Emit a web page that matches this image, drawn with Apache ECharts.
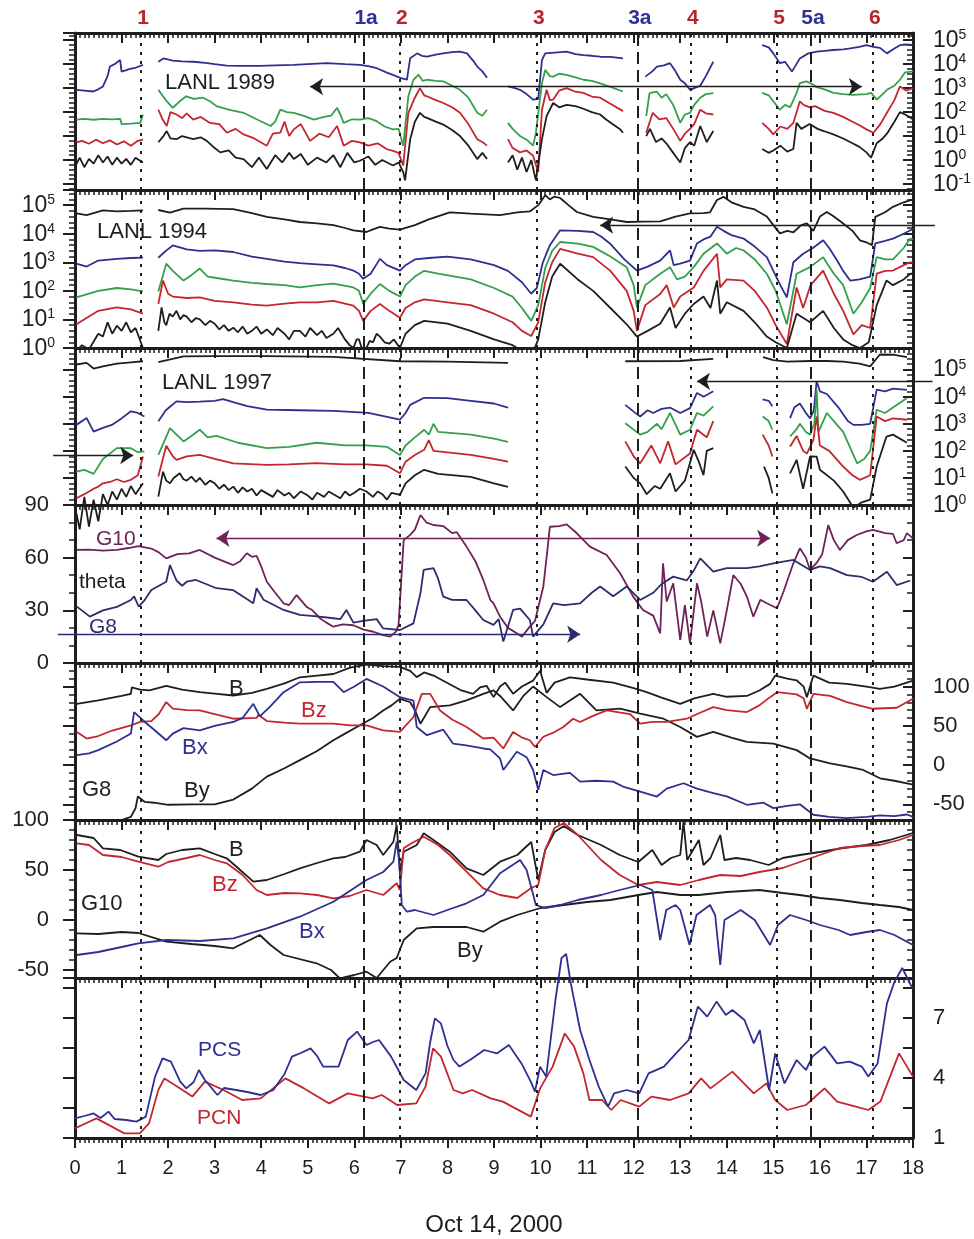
<!DOCTYPE html>
<html>
<head>
<meta charset="utf-8">
<title>Oct 14, 2000</title>
<script src="https://cdn.jsdelivr.net/npm/echarts/dist/echarts.min.js"></script>
<style>
  html, body { margin: 0; padding: 0; background: #ffffff; }
  #chart { width: 974px; height: 1239px; }
</style>
</head>
<body>
<div id="chart"></div>
<script>
// ---------------------------------------------------------------------------
// Data (time in UT hours on Oct 14, 2000). LANL fluxes are stored as log10.
// null marks a data gap.
// ---------------------------------------------------------------------------

// Event times and names (names ending in "a" are secondary events)
const eventTimes = [1.42, 6.21, 6.98, 9.92, 12.09, 13.23, 15.08, 15.81, 17.14];
const eventNames = ['1', '1a', '2', '3', '3a', '4', '5', '5a', '6'];

// LANL 1989 (log10 flux), channels 1..4
const lanl89Ch1 = [[0.03,2.93],[0.2,2.9],[0.39,2.86],[0.5,2.95],[0.6,3.07],[0.7,3.5],[0.75,3.9],[0.85,4.0],[0.97,4.17],[1.0,3.69],[1.1,3.75],[1.18,3.8],[1.3,3.85],[1.46,3.97],null,
  [1.79,4.1],[1.9,4.24],[2.1,4.15],[2.3,4.12],[2.54,4.1],[2.8,4.05],[3.0,4.0],[3.26,3.94],[3.6,3.93],[3.97,3.93],[4.3,3.95],[4.69,3.97],[5.0,4.0],[5.4,4.04],[5.8,4.0],[6.12,3.97],[6.3,3.92],[6.48,3.83],[6.7,3.65],[6.83,3.55],[7.0,3.42],[7.13,3.35],[7.2,4.25],[7.35,4.45],[7.45,4.35],[7.56,4.31],[7.75,4.4],[7.91,4.45],[8.1,4.5],[8.27,4.52],[8.42,4.45],[8.55,4.15],[8.64,3.9],[8.75,3.7],[8.85,3.43],null,
  [9.3,3.07],[9.45,3.0],[9.56,2.93],[9.7,2.75],[9.84,2.52],[9.95,2.55],[10.03,4.17],[10.1,4.45],[10.3,4.48],[10.56,4.52],[10.75,4.42],[10.92,4.38],[11.1,4.35],[11.28,4.31],[11.5,4.3],[11.77,4.24],null,
  [12.25,3.48],[12.4,3.7],[12.5,3.9],[12.65,3.95],[12.78,4.04],[12.9,3.7],[13.0,3.35],[13.1,3.2],[13.21,2.93],[13.3,3.0],[13.43,3.1],[13.55,3.5],[13.71,4.1],null,
  [14.76,4.79],[14.9,4.7],[15.0,4.45],[15.14,4.04],[15.25,4.1],[15.4,3.69],[15.57,4.24],[15.75,4.45],[15.93,4.52],[16.1,4.55],[16.29,4.59],[16.5,4.62],[16.65,4.66],[16.85,4.72],[17.0,4.79],[17.15,4.72],[17.29,4.68],[17.44,4.45],[17.6,4.65],[17.72,4.79],[17.83,4.82],[18.0,4.8]];
const lanl89Ch2 = [[0.03,1.69],[0.2,1.72],[0.4,1.68],[0.6,1.72],[0.8,1.7],[0.97,1.72],[1.0,1.5],[1.2,1.52],[1.4,1.55],[1.46,1.9],null,
  [1.79,2.93],[1.95,2.5],[2.1,2.18],[2.25,2.45],[2.39,2.66],[2.55,2.55],[2.75,2.6],[2.9,2.45],[3.04,2.25],[3.3,2.1],[3.62,1.97],[3.9,1.7],[4.2,1.42],[4.3,1.6],[4.41,2.1],[4.55,2.0],[4.7,1.97],[4.9,1.85],[5.13,1.69],[5.35,1.8],[5.5,1.85],[5.63,2.18],[5.7,1.9],[5.77,1.55],[5.95,1.7],[6.12,1.69],[6.3,1.75],[6.48,1.62],[6.65,1.4],[6.83,1.28],[6.95,1.3],[7.05,0.6],[7.16,2.66],[7.27,3.35],[7.38,3.56],[7.47,3.3],[7.56,3.35],[7.75,3.3],[7.91,3.28],[8.1,3.1],[8.27,2.93],[8.45,2.6],[8.64,1.97],[8.75,1.85],[8.85,2.1],null,
  [9.3,1.55],[9.4,1.3],[9.56,1.0],[9.7,0.85],[9.84,0.6],[9.9,1.14],[10.03,3.21],[10.1,3.76],[10.2,3.5],[10.27,3.48],[10.4,3.6],[10.56,3.55],[10.75,3.45],[10.92,3.35],[11.1,3.3],[11.28,3.2],[11.5,3.05],[11.77,2.86],null,
  [12.27,1.83],[12.34,2.79],[12.5,2.85],[12.6,2.6],[12.7,2.75],[12.85,2.3],[13.0,1.55],[13.1,1.9],[13.21,1.97],[13.3,2.3],[13.43,2.6],[13.55,2.75],[13.71,2.79],null,
  [14.76,2.8],[14.9,2.7],[15.0,2.45],[15.14,2.1],[15.25,2.3],[15.36,2.2],[15.5,2.8],[15.57,3.21],[15.71,3.28],[15.85,3.15],[15.93,3.04],[16.1,2.95],[16.29,2.8],[16.5,2.75],[16.7,2.72],[17.0,2.75],[17.1,2.8],[17.22,2.52],[17.35,2.75],[17.44,2.93],[17.6,3.1],[17.72,3.35],[17.83,3.66],[18.0,3.7]];
const lanl89Ch3 = [[0.03,0.74],[0.15,0.8],[0.3,0.68],[0.45,0.85],[0.6,0.7],[0.75,0.82],[0.9,0.65],[1.05,0.78],[1.2,0.6],[1.35,0.8],[1.46,0.85],null,
  [1.79,2.1],[1.88,1.7],[1.97,1.42],[2.05,2.0],[2.18,1.9],[2.3,1.75],[2.4,1.95],[2.54,1.69],[2.7,1.8],[2.9,1.55],[3.1,1.5],[3.26,1.14],[3.45,1.3],[3.62,1.07],[3.85,0.9],[4.12,0.6],[4.25,1.1],[4.41,1.14],[4.5,1.6],[4.6,1.0],[4.7,1.28],[4.85,1.5],[5.05,0.8],[5.25,1.1],[5.45,0.95],[5.63,1.42],[5.77,0.6],[5.95,0.8],[6.12,0.74],[6.3,0.6],[6.5,0.7],[6.7,0.45],[6.83,0.38],[6.95,0.3],[7.05,-0.23],[7.16,1.97],[7.3,2.6],[7.41,3.0],[7.5,2.7],[7.56,2.66],[7.75,2.5],[7.91,2.38],[8.1,2.2],[8.27,1.97],[8.45,1.5],[8.64,0.87],[8.75,0.75],[8.85,0.6],null,
  [9.3,0.87],[9.4,0.5],[9.56,0.32],[9.7,0.4],[9.84,0.18],[9.95,-0.5],[10.03,2.1],[10.13,2.93],[10.2,2.5],[10.27,2.52],[10.4,2.9],[10.56,3.0],[10.75,2.85],[10.92,2.8],[11.1,2.65],[11.28,2.6],[11.5,2.35],[11.77,2.04],null,
  [12.27,1.14],[12.41,1.97],[12.55,1.7],[12.7,1.75],[12.85,1.3],[13.0,0.8],[13.1,1.1],[13.21,1.3],[13.3,1.5],[13.43,2.1],[13.55,1.95],[13.71,1.9],null,
  [14.76,1.55],[14.9,1.3],[15.0,1.07],[15.15,1.4],[15.3,1.3],[15.43,1.55],[15.57,2.45],[15.65,2.3],[15.78,2.2],[15.9,2.25],[16.1,2.05],[16.29,1.97],[16.5,1.8],[16.7,1.6],[16.85,1.45],[17.0,1.28],[17.15,1.14],[17.3,1.5],[17.44,1.97],[17.6,2.5],[17.72,3.07],[17.85,2.9],[18.0,3.0]];
const lanl89Ch4 = [[0.03,-0.17],[0.1,0.1],[0.2,-0.3],[0.3,0.05],[0.4,-0.15],[0.5,0.2],[0.6,-0.1],[0.7,0.15],[0.8,-0.2],[0.9,0.1],[1.0,-0.15],[1.1,0.05],[1.2,-0.2],[1.3,0.1],[1.46,-0.1],null,
  [1.79,0.74],[1.9,1.0],[1.97,1.21],[2.05,0.9],[2.18,0.87],[2.3,1.0],[2.54,0.87],[2.7,0.95],[2.83,0.8],[3.0,0.5],[3.12,0.32],[3.3,0.4],[3.45,0.1],[3.62,0.04],[3.8,-0.3],[3.95,0.1],[4.12,-0.37],[4.3,0.2],[4.45,-0.1],[4.6,0.3],[4.7,0.04],[4.85,0.25],[5.0,-0.2],[5.2,0.1],[5.4,-0.1],[5.55,0.2],[5.7,-0.3],[5.85,0.3],[6.0,-0.1],[6.12,-0.03],[6.3,0.15],[6.45,-0.2],[6.6,0.0],[6.83,-0.23],[6.95,-0.1],[7.05,-0.5],[7.09,-0.85],[7.2,0.87],[7.3,1.6],[7.41,1.97],[7.5,1.8],[7.56,1.76],[7.75,1.6],[7.91,1.48],[8.1,1.25],[8.27,1.0],[8.45,0.6],[8.64,0.04],[8.75,0.3],[8.85,0.04],null,
  [9.3,-0.1],[9.4,0.2],[9.5,-0.4],[9.6,0.1],[9.7,-0.5],[9.8,0.0],[9.9,-0.85],[10.03,0.87],[10.13,1.83],[10.27,2.38],[10.4,2.2],[10.56,2.3],[10.75,2.25],[10.92,2.14],[11.1,2.0],[11.28,1.9],[11.4,1.7],[11.56,1.48],[11.7,1.3],[11.77,1.14],null,
  [12.27,1.0],[12.35,1.3],[12.48,0.75],[12.6,0.9],[12.7,0.7],[12.85,0.3],[13.0,-0.1],[13.1,0.5],[13.21,0.75],[13.3,0.6],[13.43,1.42],[13.57,0.75],[13.71,1.21],null,
  [14.76,0.46],[14.9,0.3],[15.0,0.4],[15.15,0.6],[15.3,0.35],[15.43,0.46],[15.5,1.55],[15.6,1.3],[15.78,1.5],[15.95,1.3],[16.1,1.2],[16.29,1.07],[16.5,0.9],[16.7,0.7],[16.85,0.55],[17.0,0.32],[17.1,0.1],[17.22,0.7],[17.35,0.9],[17.44,1.1],[17.6,1.6],[17.72,2.0],[17.83,1.9],[18.0,1.7]];

// LANL 1994 (log10 flux), channels 0..4
const lanl94Ch0 = [[0.03,4.71],[0.25,4.65],[0.6,4.82],[0.9,4.78],[1.2,4.8],[1.46,4.82],null,
  [1.79,4.83],[2.04,4.74],[2.33,4.88],[2.8,4.88],[3.4,4.86],[3.8,4.72],[4.12,4.59],[4.5,4.5],[4.83,4.41],[5.2,4.36],[5.55,4.3],[5.8,4.2],[5.98,4.12],[6.26,4.06],[6.4,4.15],[6.55,4.24],[6.75,4.18],[6.98,4.14],[7.3,4.3],[7.6,4.5],[8.05,4.75],[8.5,4.7],[9.13,4.65],[9.5,4.75],[9.77,4.78],[9.95,5.0],[10.1,5.35],[10.2,5.2],[10.3,5.3],[10.42,5.25],[10.6,5.0],[10.78,4.76],[11.13,4.59],[11.5,4.5],[11.85,4.41],[12.2,4.42],[12.57,4.43],[12.9,4.6],[13.21,4.71],[13.5,4.72],[13.64,4.75],[13.79,5.18],[13.93,5.29],[14.1,5.1],[14.36,4.94],[14.6,4.85],[14.86,4.6],[15.0,4.3],[15.14,4.01],[15.3,4.1],[15.43,4.05],[15.6,4.3],[15.72,4.36],[15.86,4.1],[16.0,4.6],[16.15,4.76],[16.3,4.6],[16.5,4.36],[16.7,4.1],[16.86,3.77],[17.0,3.7],[17.12,3.6],[17.19,4.59],[17.4,4.75],[17.57,4.94],[17.8,5.1],[18.0,5.2]];
const lanl94Ch1 = [[0.03,2.95],[0.25,2.85],[0.5,3.06],[0.9,3.12],[1.2,3.15],[1.46,3.16],null,
  [1.79,3.16],[1.95,3.4],[2.1,3.59],[2.4,3.45],[2.68,3.4],[3.0,3.42],[3.4,3.36],[3.8,3.2],[4.12,3.12],[4.5,3.02],[4.83,2.97],[5.2,2.93],[5.55,2.89],[5.8,2.8],[5.98,2.71],[6.1,2.6],[6.19,2.42],[6.35,2.6],[6.55,3.12],[6.7,2.9],[6.98,2.71],[7.1,2.9],[7.3,3.1],[7.6,3.15],[8.0,3.2],[8.5,3.1],[9.0,2.9],[9.3,2.7],[9.6,2.3],[9.8,1.9],[9.92,2.1],[10.05,3.0],[10.2,3.6],[10.42,4.12],[10.8,4.1],[11.13,4.06],[11.3,3.9],[11.49,3.66],[11.8,3.1],[12.07,2.71],[12.3,2.85],[12.57,3.06],[12.78,3.42],[12.86,2.9],[13.0,2.95],[13.21,3.06],[13.36,3.66],[13.5,3.8],[13.65,3.9],[13.79,4.24],[13.93,4.1],[14.1,3.95],[14.36,3.83],[14.6,3.55],[14.86,3.18],[15.0,2.7],[15.15,2.2],[15.29,1.77],[15.43,3.0],[15.64,3.3],[15.85,3.5],[16.07,3.77],[16.2,3.5],[16.37,3.06],[16.5,2.7],[16.65,2.36],[16.85,2.4],[17.08,2.5],[17.19,3.66],[17.4,3.75],[17.57,3.83],[17.8,4.0],[17.94,4.12],[18.0,4.15]];
const lanl94Ch2 = [[0.03,1.77],[0.3,1.9],[0.5,2.0],[0.9,2.1],[1.2,2.05],[1.46,1.98],null,
  [1.79,1.98],[1.96,2.95],[2.1,2.7],[2.33,2.36],[2.5,2.55],[2.68,2.78],[2.85,2.5],[3.04,2.45],[3.4,2.36],[3.8,2.28],[4.12,2.24],[4.5,2.2],[4.83,2.12],[5.2,2.2],[5.55,2.25],[5.98,2.12],[6.1,2.0],[6.19,1.54],[6.35,1.9],[6.55,2.24],[6.75,2.0],[6.98,1.8],[7.1,2.2],[7.3,2.5],[7.5,2.7],[7.8,2.6],[8.5,2.4],[9.0,2.1],[9.4,1.8],[9.6,1.4],[9.8,0.95],[9.95,1.5],[10.1,2.8],[10.25,3.4],[10.42,3.71],[10.8,3.65],[11.13,3.54],[11.5,3.2],[11.85,2.83],[12.0,2.2],[12.07,1.42],[12.25,2.2],[12.57,2.6],[12.78,2.83],[12.93,2.4],[13.1,2.5],[13.29,2.83],[13.5,3.3],[13.79,3.66],[14.0,3.3],[14.2,3.5],[14.36,3.42],[14.6,3.1],[14.86,2.6],[15.05,2.0],[15.29,0.83],[15.5,2.6],[15.79,2.83],[16.07,3.18],[16.3,2.6],[16.5,2.2],[16.72,1.2],[16.9,1.6],[17.08,2.1],[17.22,3.18],[17.4,3.1],[17.57,3.1],[17.8,3.5],[17.94,3.83],[18.0,3.8]];
const lanl94Ch3 = [[0.03,0.83],[0.3,1.1],[0.5,1.3],[0.9,1.42],[1.2,1.35],[1.46,1.2],null,
  [1.79,1.54],[1.89,2.36],[2.0,1.9],[2.1,1.8],[2.4,1.75],[2.68,1.77],[3.0,1.65],[3.4,1.6],[3.8,1.52],[4.12,1.48],[4.5,1.55],[4.83,1.6],[5.2,1.6],[5.55,1.65],[5.98,1.48],[6.1,1.3],[6.19,0.95],[6.35,1.3],[6.55,1.54],[6.75,1.3],[6.98,1.06],[7.1,1.4],[7.3,1.6],[7.5,1.7],[8.0,1.6],[8.5,1.5],[9.0,1.2],[9.4,0.9],[9.6,0.6],[9.8,0.42],[9.95,0.9],[10.1,2.3],[10.25,3.0],[10.42,3.47],[10.8,3.3],[11.13,3.18],[11.5,2.7],[11.85,2.0],[12.0,1.3],[12.07,0.6],[12.25,1.5],[12.57,1.89],[12.71,2.2],[12.86,1.42],[13.0,1.8],[13.29,2.12],[13.5,2.7],[13.79,3.3],[13.86,2.12],[14.0,2.4],[14.36,2.36],[14.6,2.0],[14.86,1.42],[15.05,0.8],[15.29,0.14],[15.5,2.12],[15.64,1.4],[15.8,2.2],[16.07,2.71],[16.3,1.9],[16.5,1.3],[16.72,0.48],[16.9,0.8],[17.08,0.7],[17.22,2.6],[17.4,2.7],[17.57,2.71],[17.8,2.9],[17.94,3.0],[18.0,3.0]];
const lanl94Ch4 = [[0.03,-0.1],[0.15,0.1],[0.3,-0.05],[0.5,0.5],[0.6,0.4],[0.7,0.9],[0.8,0.5],[0.9,0.78],[1.0,0.6],[1.1,0.9],[1.2,0.55],[1.3,0.7],[1.46,0.0],null,
  [1.79,0.6],[1.86,1.42],[1.92,0.9],[1.96,0.8],[2.03,1.2],[2.1,1.1],[2.18,1.3],[2.26,1.0],[2.33,1.15],[2.4,1.1],[2.5,0.9],[2.6,1.05],[2.68,1.0],[2.8,0.8],[2.9,0.95],[3.0,0.85],[3.1,0.65],[3.2,0.8],[3.3,0.6],[3.4,0.71],[3.5,0.55],[3.6,0.75],[3.7,0.5],[3.8,0.6],[3.9,0.75],[4.0,0.5],[4.12,0.65],[4.25,0.45],[4.35,0.7],[4.5,0.5],[4.6,0.3],[4.7,0.6],[4.83,0.6],[4.95,0.4],[5.05,0.7],[5.2,0.45],[5.3,0.6],[5.4,0.35],[5.55,0.5],[5.65,0.7],[5.8,0.3],[5.9,0.1],[5.98,0.0],[6.05,0.3],[6.1,0.3],[6.18,-0.1],[6.26,0.0],[6.33,0.25],[6.4,0.2],[6.48,0.5],[6.55,0.4],[6.65,0.2],[6.75,0.15],[6.85,0.3],[6.98,0.0],
  [7.1,0.5],[7.3,0.8],[7.5,0.95],[8.0,0.85],[8.5,0.6],[9.0,0.3],[9.4,0.1],[9.6,-0.1],[9.8,-0.3],[9.95,0.3],[10.1,1.6],[10.25,2.5],[10.42,2.95],[10.8,2.4],[11.13,2.0],[11.5,1.4],[11.85,0.83],[12.07,0.4],[12.3,0.6],[12.57,0.85],[12.78,1.42],[12.9,0.7],[13.1,1.2],[13.29,1.54],[13.5,1.8],[13.65,1.4],[13.79,2.36],[13.86,1.2],[14.0,1.6],[14.36,1.3],[14.6,0.9],[14.86,0.4],[15.05,0.2],[15.29,0.0],[15.5,1.2],[15.79,0.9],[16.07,1.3],[16.3,0.7],[16.5,0.3],[16.7,0.1],[16.86,0.0],[17.05,0.2],[17.22,1.5],[17.43,2.36],[17.57,2.2],[17.8,2.4],[17.94,2.6],[18.0,2.6]];

// LANL 1997 (log10 flux), channels 0..4
const lanl97Ch0 = [[0.03,5.19],[0.25,5.25],[0.4,5.04],[0.6,5.12],[0.9,5.22],[1.2,5.27],[1.46,5.31],null,
  [1.79,5.28],[2.33,5.49],[3.0,5.5],[4.12,5.5],[5.55,5.47],[6.98,5.31],[8.0,5.3],[9.3,5.25],null,
  [11.82,5.31],[13.0,5.32],[13.71,5.4],null,
  [14.78,5.46],[15.0,5.35],[15.3,5.3],[15.8,5.32],[16.15,5.32],[16.5,5.3],[16.85,5.22],[17.08,5.12],[17.29,5.56],[17.6,5.55],[17.87,5.46]];
const lanl97Ch1 = [[0.03,2.96],[0.25,3.21],[0.4,2.71],[0.6,2.85],[0.79,2.96],[1.0,3.2],[1.2,3.46],[1.35,3.4],[1.49,3.27],null,
  [1.79,3.09],[1.95,3.5],[2.18,3.83],[2.4,3.8],[2.68,3.82],[3.0,3.85],[3.18,3.91],[3.4,3.8],[3.7,3.65],[4.12,3.52],[4.8,3.5],[5.55,3.48],[6.3,3.4],[6.98,3.15],[7.1,3.4],[7.2,3.7],[7.5,3.96],[8.0,3.95],[8.5,3.85],[9.0,3.75],[9.3,3.6],null,
  [11.82,3.7],[12.0,3.45],[12.14,3.27],[12.3,3.5],[12.42,3.4],[12.6,3.55],[12.78,3.6],[13.0,3.4],[13.21,3.58],[13.36,4.14],[13.5,4.0],[13.71,4.2],null,
  [14.77,3.9],[14.9,3.85],[14.98,3.65],null,
  [15.36,3.21],[15.45,3.6],[15.57,3.75],[15.7,3.4],[15.79,3.2],[15.87,3.5],[15.93,4.57],[16.0,4.2],[16.15,4.1],[16.4,3.6],[16.6,3.1],[16.72,2.96],[16.9,2.96],[17.08,3.0],[17.22,4.26],[17.4,4.2],[17.57,4.3],[17.87,4.25]];
const lanl97Ch2 = [[0.03,1.23],[0.2,1.3],[0.4,1.15],[0.6,1.7],[0.9,2.1],[1.2,2.1],[1.35,1.95],[1.49,1.98],null,
  [1.79,1.85],[2.04,2.84],[2.33,2.35],[2.5,2.55],[2.68,2.78],[2.85,2.5],[3.04,2.55],[3.5,2.3],[4.12,2.1],[4.6,2.15],[5.19,2.3],[5.8,2.2],[6.26,2.2],[6.7,2.15],[6.98,1.85],[7.1,2.2],[7.3,2.5],[7.5,2.78],[7.6,2.6],[7.7,3.0],[7.8,2.7],[8.5,2.6],[9.0,2.45],[9.3,2.33],null,
  [11.82,3.02],[12.14,2.6],[12.3,2.7],[12.5,3.0],[12.6,2.8],[12.78,3.4],[13.0,2.6],[13.21,2.78],[13.36,3.4],[13.5,3.3],[13.71,3.64],null,
  [14.77,3.27],[14.9,3.1],[14.98,2.78],null,
  [15.36,2.53],[15.5,2.8],[15.57,3.0],[15.7,2.7],[15.79,2.6],[15.88,3.0],[15.93,4.26],[15.97,2.7],[16.15,3.4],[16.35,3.0],[16.5,2.7],[16.8,1.54],[16.95,1.7],[17.08,2.0],[17.22,3.52],[17.4,3.4],[17.57,3.6],[17.87,3.95]];
const lanl97Ch3 = [[0.03,0.25],[0.2,0.4],[0.4,0.6],[0.5,0.68],[0.6,0.8],[0.75,0.85],[0.9,0.95],[1.05,0.85],[1.2,0.93],[1.35,1.1],[1.46,1.79],null,
  [1.79,1.05],[1.96,2.19],[2.1,1.8],[2.18,1.67],[2.4,1.8],[2.68,1.85],[3.0,1.7],[3.4,1.54],[4.12,1.48],[4.6,1.5],[5.19,1.55],[5.8,1.5],[6.26,1.5],[6.7,1.45],[6.98,1.17],[7.1,1.6],[7.3,1.85],[7.5,2.04],[7.6,2.4],[7.7,2.0],[8.5,1.85],[9.0,1.7],[9.3,1.6],null,
  [11.82,2.35],[12.0,1.8],[12.14,1.54],[12.38,2.2],[12.57,1.54],[12.74,2.35],[12.9,1.5],[13.21,1.9],[13.36,2.78],[13.57,2.5],[13.71,3.1],null,
  [14.77,2.6],[14.9,2.2],[14.98,1.79],null,
  [15.36,2.16],[15.5,2.55],[15.64,2.0],[15.72,1.9],[15.86,2.4],[15.93,3.27],[16.0,2.2],[16.2,2.0],[16.5,1.42],[16.7,1.1],[16.86,0.93],[17.08,1.1],[17.22,3.27],[17.4,3.1],[17.57,3.2],[17.87,3.15]];
const lanl97Ch4 = [[0.03,-0.3],[0.1,-0.9],[0.2,0.3],[0.3,-0.8],[0.4,0.2],[0.5,-0.6],[0.6,0.4],[0.7,0.0],[0.8,0.5],[0.9,0.2],[1.0,0.6],[1.1,0.3],[1.2,0.7],[1.3,0.4],[1.46,0.8],null,
  [1.79,0.31],[1.89,1.23],[1.96,0.9],[2.04,0.8],[2.12,1.0],[2.25,1.17],[2.33,0.95],[2.4,0.9],[2.5,1.05],[2.6,0.85],[2.68,1.0],[2.8,0.75],[2.9,0.9],[3.0,0.8],[3.1,0.6],[3.2,0.75],[3.3,0.55],[3.4,0.68],[3.5,0.45],[3.6,0.65],[3.7,0.5],[3.8,0.6],[3.9,0.35],[4.0,0.55],[4.12,0.43],[4.25,0.3],[4.35,0.55],[4.5,0.35],[4.6,0.45],[4.7,0.25],[4.85,0.5],[5.0,0.35],[5.1,0.2],[5.2,0.45],[5.35,0.3],[5.45,0.5],[5.55,0.4],[5.7,0.25],[5.8,0.5],[5.9,0.35],[6.0,0.45],[6.12,0.6],[6.26,0.5],[6.4,0.3],[6.5,0.5],[6.6,0.4],[6.7,0.2],[6.8,0.45],[6.98,0.37],
  [7.1,0.8],[7.3,1.1],[7.5,1.3],[7.8,1.15],[8.5,1.04],[9.0,0.8],[9.3,0.67],null,
  [11.82,1.42],[12.0,1.0],[12.14,0.8],[12.28,0.4],[12.45,0.7],[12.57,0.6],[12.78,1.17],[12.9,0.5],[13.1,0.9],[13.29,2.04],[13.4,1.6],[13.5,1.1],[13.57,2.0],[13.71,2.1],null,
  [14.8,1.42],[14.9,1.0],[14.98,0.43],null,
  [15.36,1.17],[15.5,1.67],[15.64,0.6],[15.79,1.8],[15.93,1.79],[16.0,1.3],[16.3,0.9],[16.5,0.5],[16.72,-0.1],[16.9,0.1],[17.08,0.2],[17.22,1.42],[17.43,2.53],[17.57,2.6],[17.87,2.3]];

// Field inclination theta (deg)
const thetaG10 = [[0.04,64.4],[0.3,64.6],[0.6,64.0],[0.9,64.4],[1.15,65.5],[1.36,66.6],[1.64,65.2],[1.8,63],[1.96,59.6],[2.2,62],[2.45,62.5],[2.68,64.4],[3.0,60],[3.4,55.8],[3.55,58],[3.69,62.5],[3.8,60.5],[3.9,61],[4.0,55],[4.12,46.3],[4.3,40],[4.48,34.0],[4.6,33],[4.76,38.7],[4.97,32.1],[5.1,30],[5.26,25.5],[5.4,23],[5.55,20.7],[5.75,22],[5.98,21.5],[6.2,19],[6.41,17.8],[6.6,16],[6.77,15.0],[6.9,18],[6.95,21.7],[7.06,70],[7.2,73],[7.3,76],[7.42,84.3],[7.55,80],[7.7,78.6],[7.91,78],[8.1,74],[8.2,74.5],[8.41,66.3],[8.6,58],[8.77,47.3],[8.92,36],[8.99,34],[9.13,26.4],[9.3,20],[9.49,16.9],[9.6,15],[9.77,20.7],[9.88,24],[10.06,43.6],[10.15,65],[10.2,77.6],[10.4,78],[10.56,79],[10.78,73.9],[11.06,66.3],[11.42,61.5],[11.71,51.1],[11.99,37.8],[12.2,30.2],[12.42,27],[12.57,16.9],[12.63,56.8],[12.71,35],[12.85,45.4],[13.0,13.1],[13.1,33],[13.21,11.2],[13.36,45.4],[13.45,35],[13.58,15],[13.71,30],[13.86,11.2],[14.0,30],[14.14,50.1],[14.3,45],[14.43,38],[14.57,26.4],[14.72,36],[14.86,34],[15.08,31.2],[15.21,40],[15.43,56.8],[15.57,65.3],[15.7,60],[15.79,53],[15.93,57],[16.05,62],[16.18,78.6],[16.3,70],[16.43,64.4],[16.6,70],[16.79,72.9],[17.0,75],[17.14,75.8],[17.4,74],[17.57,73.5],[17.65,68.2],[17.8,70],[17.87,74],[18.0,71]];
const thetaG8 = [[0.04,32.1],[0.32,26.4],[0.6,30],[0.9,32],[1.2,35.9],[1.27,38],[1.37,32.1],[1.5,36],[1.64,41.6],[1.96,46.3],[2.04,55.8],[2.18,47],[2.3,44],[2.4,46.3],[2.6,47.3],[3.04,42.6],[3.4,41.5],[3.6,38],[3.83,34],[3.9,42.6],[4.05,36],[4.48,30.2],[4.83,27.4],[5.2,26.5],[5.55,25.5],[5.7,25],[5.83,30.2],[5.98,23],[6.19,24],[6.48,25],[6.62,19.7],[6.98,18.8],[7.27,22.6],[7.42,39.7],[7.49,53],[7.7,54],[7.8,48],[7.91,37.8],[8.1,36],[8.41,35.9],[8.6,30],[8.77,24.5],[8.99,21.7],[9.1,25],[9.2,12.2],[9.41,30.2],[9.56,31],[9.77,24.5],[9.84,15],[10.06,22],[10.27,34],[10.5,33],[10.85,34],[11.1,40],[11.28,43.6],[11.56,38],[11.85,43.6],[12.14,35.9],[12.42,40],[12.6,45],[12.85,49.2],[13.14,47],[13.3,53],[13.43,59.6],[13.71,52],[14.0,54],[14.43,54],[14.7,55],[15.0,56.8],[15.43,58.7],[15.6,56],[15.79,53],[16.0,55],[16.22,54],[16.58,50.1],[16.9,49],[17.14,46.3],[17.44,52],[17.65,44.4],[17.94,47]];

// GOES 8 magnetic field (nT)
const g8B  = [[0.04,78],[0.5,82.3],[1.0,88],[1.2,90.7],[1.22,99],[1.4,96],[1.6,95],[1.96,101],[2.3,96],[2.68,92.8],[3.0,91],[3.4,88.6],[3.8,92],[4.12,97],[4.5,104],[4.83,111.8],[5.2,114],[5.55,116],[5.91,124],[6.26,128],[6.6,126],[6.98,125],[7.2,120],[7.34,112],[7.5,118],[7.7,114],[8.05,103],[8.3,95],[8.55,90.7],[8.7,99],[8.84,101],[8.99,86.5],[9.13,100],[9.24,105],[9.41,90.7],[9.6,100],[9.84,107.6],[9.99,120],[10.13,92],[10.3,105],[10.63,111.8],[11.0,109],[11.56,105],[12.0,98],[12.28,92.8],[12.6,86],[13.0,78],[13.3,85],[13.71,90.7],[14.0,87],[14.43,88],[14.7,95],[14.93,103.4],[15.04,114],[15.3,110],[15.5,108],[15.65,100],[15.72,86.5],[15.86,114],[16.2,105],[16.58,103.4],[17.0,100],[17.29,97],[17.6,100],[18.0,107.6]];
const g8Bx = [[0.04,12.7],[0.3,15],[0.5,19],[0.9,30],[1.2,40.1],[1.27,67.5],[1.5,54.9],[1.7,45],[1.96,31.6],[2.1,40],[2.33,47],[2.68,44.3],[3.0,50],[3.4,54.9],[3.6,60],[3.83,78],[3.97,62],[4.2,75],[4.48,92.8],[4.83,105.4],[5.2,106],[5.55,106],[5.77,92.8],[6.0,100],[6.26,109.7],[6.62,100],[6.98,86.5],[7.27,82],[7.34,48.5],[7.56,38],[7.91,45],[8.12,27.4],[8.4,25],[8.77,21.1],[8.92,20],[9.13,8.4],[9.2,-6.3],[9.49,16.9],[9.7,10],[9.84,-6.3],[9.95,-31.6],[10.06,-6.3],[10.27,-12.7],[10.63,-10],[10.85,-21.1],[11.2,-20],[11.56,-21.1],[11.77,-27.4],[12.14,-33.8],[12.5,-40.1],[12.71,-30],[13.07,-23.2],[13.36,-30],[13.71,-35.9],[14.0,-40],[14.43,-50.6],[14.79,-48],[15.0,-54.9],[15.3,-52],[15.57,-50],[15.86,-63.3],[16.2,-66],[16.58,-67.5],[17.0,-66],[17.29,-64],[17.6,-65],[17.87,-63],[18.0,-66]];
const g8By = [[0.04,-70],[0.5,-71],[1.0,-70],[1.2,-66],[1.3,-55],[1.35,-40],[1.5,-47],[1.7,-48],[2.0,-50.6],[2.5,-50],[3.0,-50],[3.4,-44],[3.8,-30],[4.12,-14.8],[4.5,-4],[4.83,6.3],[5.2,18],[5.55,31.6],[5.8,40],[6.12,50.6],[6.4,60],[6.62,69.6],[6.8,76],[6.98,84.4],[7.2,80],[7.3,70],[7.42,52.7],[7.63,73.8],[8.05,76],[8.41,82.3],[8.77,90.7],[8.99,95],[9.13,88],[9.41,69.6],[9.63,88],[9.84,100],[10.13,86.5],[10.42,73.8],[10.85,90.7],[11.2,69.6],[11.71,72],[12.14,65.4],[12.64,59],[13.0,48.5],[13.36,35.9],[13.71,42.2],[14.1,35],[14.43,29.5],[15.0,27.4],[15.5,19],[15.79,8.4],[16.22,2.1],[16.6,-2],[16.93,-6.3],[17.29,-16.9],[17.6,-20],[17.87,-23.2],[18.0,-25]];
const g8Bz = [[0.04,42.2],[0.25,33.8],[0.5,37],[0.8,44],[1.2,50.6],[1.4,54.9],[1.64,56],[1.8,65],[1.96,80.2],[2.1,72],[2.4,70],[2.68,69.6],[3.0,65],[3.4,59],[3.9,60],[3.94,64],[4.12,56],[4.5,54],[4.83,52.7],[5.55,52.7],[5.91,50.6],[6.26,50.6],[6.62,44.3],[6.98,42.2],[7.27,61.2],[7.45,90.7],[7.63,90.7],[7.84,69.6],[8.1,58],[8.41,48.5],[8.77,33.8],[8.99,35],[9.2,21.1],[9.41,42.2],[9.6,35],[9.77,31.6],[9.88,23],[10.06,36],[10.3,42],[10.49,48.5],[10.7,59],[10.85,54.9],[11.1,62],[11.42,69.6],[11.92,65],[12.14,52.7],[12.4,55],[12.71,54.9],[13.14,59],[13.4,66],[13.71,73.8],[14.0,70],[14.43,67.5],[14.7,76],[14.93,86.5],[15.08,92.8],[15.5,90],[15.65,85],[15.72,71.7],[15.86,90.7],[16.22,88],[16.58,80.2],[16.9,75],[17.14,71.7],[17.65,73],[18.0,84.4]];

// GOES 10 magnetic field (nT)
const g10B  = [[0.04,85],[0.4,82],[0.6,71.7],[0.97,70],[1.36,63.3],[1.79,60],[1.96,66],[2.3,70],[2.68,71.7],[3.0,66],[3.26,61.7],[3.5,52],[3.83,38.3],[4.12,40],[4.5,46],[4.83,51.7],[5.2,57],[5.55,61.7],[5.8,63],[6.12,68.3],[6.26,80],[6.48,75],[6.62,65],[6.84,78.3],[6.91,95],[6.98,48.3],[7.06,68.3],[7.34,75],[7.49,86.7],[7.7,80],[8.05,68.3],[8.41,51.7],[8.77,45],[9.13,58.3],[9.5,65],[9.8,78],[9.95,40],[10.1,70],[10.3,88],[10.5,94],[10.8,85],[11.3,75],[11.7,65],[12.1,58],[12.4,70],[12.6,55],[12.8,62],[13.0,65],[13.07,98],[13.15,60],[13.4,80],[13.5,55],[13.65,62],[13.86,85],[13.95,60],[14.2,62],[14.5,60],[14.9,55],[15.2,62],[15.57,65],[16.0,68],[16.5,72],[17.0,75],[17.5,80],[18.0,87]];
const g10Bx = [[0.04,-35],[0.5,-32],[1.0,-27],[1.36,-23.3],[1.96,-20],[2.68,-21],[3.4,-18.3],[4.12,-8.3],[4.83,3.3],[5.55,18.3],[6.26,40],[6.62,48],[6.84,58.3],[6.91,78.3],[6.96,60],[7.02,15],[7.13,8.3],[7.3,10],[7.7,5],[8.0,10],[8.41,16.7],[8.77,25],[9.13,46.7],[9.4,55],[9.56,60],[9.7,50],[9.9,15],[10.1,12],[10.42,15],[10.8,20],[11.3,25],[11.7,30],[12.14,35],[12.4,30],[12.57,-20],[12.7,10],[12.9,15],[13.0,10],[13.2,-25],[13.35,5],[13.64,15],[13.75,5],[13.86,-45],[13.95,0],[14.3,10],[14.6,0],[14.93,-25],[15.1,-5],[15.36,5],[15.7,0],[16.0,-5],[16.4,-10],[16.65,-15],[17.0,-12],[17.29,-10],[17.6,-15],[18.0,-25]];
const g10By = [[0.04,-13.3],[0.5,-14],[1.0,-12],[1.36,-13],[1.96,-21.7],[2.5,-24],[3.0,-26],[3.4,-28.3],[3.97,-15],[4.2,-25],[4.48,-35],[5.19,-43.3],[5.5,-50],[5.69,-58.3],[6.0,-55],[6.26,-51.7],[6.48,-58],[6.77,-41.7],[6.91,-38],[7.06,-20],[7.34,-8.3],[7.7,-7],[8.41,-7],[8.77,-11.7],[9.13,-1.7],[9.5,5],[10.0,12],[10.5,15],[11.0,18],[11.5,20],[12.1,25],[12.5,28],[13.0,25],[13.4,25],[14.0,28],[14.7,30],[15.2,27],[15.57,25],[16.0,22],[16.43,20],[16.9,17],[17.29,15],[17.7,13],[18.0,10]];
const g10Bz = [[0.04,76.7],[0.3,75],[0.6,65],[1.0,63],[1.36,58.3],[1.79,53.3],[2.0,58],[2.4,62],[2.68,65],[3.0,60],[3.26,56.7],[3.6,45],[3.9,30],[4.12,25],[4.5,27],[4.83,26.7],[5.2,25],[5.55,21.7],[5.9,24],[6.26,30],[6.62,25],[6.91,36.7],[6.98,30],[7.06,71.7],[7.2,76],[7.49,83.3],[7.8,75],[8.05,65],[8.41,48.3],[8.77,31.7],[9.13,25],[9.5,22],[9.8,32],[9.95,35],[10.1,70],[10.3,92],[10.5,97],[10.8,85],[11.3,60],[11.7,45],[12.1,35],[12.5,38],[13.0,35],[13.4,40],[13.86,45],[14.3,44],[14.7,48],[15.2,52],[15.57,58],[16.0,65],[16.43,72],[16.9,74],[17.29,75],[17.7,80],[18.0,85]];

// Polar cap indices
const pcs = [[0,1.98],[0.2,2.1],[0.4,2.23],[0.55,2.0],[0.72,2.32],[0.85,1.95],[1.1,1.9],[1.32,1.82],[1.52,2.07],[1.72,4.07],[1.88,4.98],[2.06,4.82],[2.26,3.82],[2.39,3.48],[2.55,3.8],[2.66,4.4],[2.79,3.9],[3.06,3.15],[3.2,3.5],[3.46,3.4],[3.7,3.3],[3.99,3.15],[4.26,3.4],[4.5,4.2],[4.66,5.07],[4.85,5.25],[5.06,5.48],[5.2,5.1],[5.33,4.57],[5.66,4.57],[5.86,5.9],[6.06,6.32],[6.26,5.65],[6.4,5.8],[6.53,5.9],[6.79,5.07],[7.06,3.9],[7.33,3.4],[7.53,4.23],[7.63,5.8],[7.73,6.98],[7.86,6.73],[8.0,5.6],[8.13,4.9],[8.26,4.57],[8.53,4.98],[8.79,5.4],[9.06,5.23],[9.32,5.65],[9.59,4.73],[9.79,3.82],[9.88,3.32],[9.99,4.57],[10.12,4.07],[10.32,7.9],[10.45,10.0],[10.55,10.2],[10.65,8.73],[10.85,6.4],[11.05,4.9],[11.25,3.57],[11.45,2.57],[11.58,3.23],[11.85,3.4],[12.12,3.23],[12.32,4.23],[12.65,4.57],[12.91,5.23],[13.18,5.9],[13.38,7.57],[13.58,7.07],[13.78,7.82],[13.98,7.15],[14.12,7.4],[14.38,6.9],[14.58,5.73],[14.71,6.4],[14.91,3.4],[15.04,5.23],[15.24,3.73],[15.5,4.9],[15.7,4.4],[15.84,5.07],[16.1,5.57],[16.37,4.73],[16.64,4.82],[16.9,4.57],[17.04,4.07],[17.24,4.73],[17.44,7.73],[17.6,8.8],[17.77,9.5],[17.97,8.57],[18.0,8.5]];
const pcn = [[0,1.48],[0.2,1.7],[0.46,1.98],[0.79,1.57],[1.06,1.23],[1.39,1.23],[1.59,1.73],[1.79,3.4],[1.92,3.98],[2.26,3.48],[2.52,3.07],[2.79,3.82],[3.19,3.4],[3.59,2.9],[3.99,2.98],[4.52,3.98],[4.92,3.48],[5.46,2.73],[5.86,3.23],[6.39,2.98],[6.59,3.15],[6.92,2.65],[7.33,2.73],[7.53,3.57],[7.69,5.48],[7.86,5.07],[8.13,3.4],[8.33,3.23],[8.53,3.4],[8.93,2.98],[9.19,2.82],[9.46,2.48],[9.79,2.07],[9.99,3.48],[10.26,4.57],[10.52,6.23],[10.72,5.57],[10.92,4.23],[11.05,2.9],[11.32,2.9],[11.52,2.4],[11.72,2.9],[12.12,2.57],[12.38,3.07],[12.78,2.9],[13.18,3.23],[13.45,3.98],[13.65,3.48],[14.12,4.32],[14.58,3.23],[14.85,3.73],[15.04,2.9],[15.3,2.4],[15.7,2.65],[16.1,3.48],[16.37,2.82],[16.77,2.57],[17.04,2.4],[17.3,2.82],[17.7,5.23],[18.0,4.07]];

// Horizontal arrows (start point, end point) in axis units
const arrow89    = [[5.05, 3.06], [16.9, 3.06]];
const arrow94    = [[18.47, 4.3], [11.28, 4.3]];
const arrow97a   = [[-0.47, 1.83], [1.25, 1.83]];
const arrow97b   = [[18.42, 4.57], [13.36, 4.57]];
const arrowG10th = [[3.04, 71], [14.93, 71]];
const arrowG8th  = [[-0.37, 16.4], [10.85, 16.4]];

// ---------------------------------------------------------------------------
// Layout and styles
// ---------------------------------------------------------------------------
const FONT = '"Liberation Sans", Arial, Helvetica, sans-serif';
const INK = '#1e1e1e';
const COL = {
  black: '#1e1e1e', blue: '#2d2f91', green: '#34a04b', red: '#c3262e',
  purple: '#6e2257', navy: '#2c2c6e', evRed: '#b8252c', evBlue: '#2e3192'
};
const PLOT_LEFT = 75, PLOT_RIGHT = 61;
const PANEL_TOPS = [33, 190, 348, 505, 663, 820, 978];
const PANEL_HEIGHTS = [157, 158, 157, 158, 157, 158, 160];

const isWhole = v => Math.abs(v - Math.round(v)) < 1e-6;
const powLabel = v => isWhole(v) ? '{b|10}{s|' + Math.round(v) + '}' : '';
const stepLabel = step => v => (Math.abs(v / step - Math.round(v / step)) < 1e-6) ? String(Math.round(v)) : '';

const panels = [
  { min: -1.25, max: 5.3, split: 6, side: 'right', fmt: powLabel, minor: 5, rich: true },
  { min: 0, max: 5.53, split: 5, side: 'left', fmt: powLabel, minor: 5, rich: true },
  { min: 0, max: 5.8, split: 5, side: 'right', fmt: powLabel, minor: 5, rich: true },
  { min: 0, max: 90, interval: 30, side: 'left', fmt: stepLabel(30), minor: 3, margin: 26 },
  { min: -70, max: 130, split: 4, side: 'right', fmt: stepLabel(50), minor: 5 },
  { min: -58, max: 100, split: 3, side: 'left', fmt: stepLabel(50), minor: 5, margin: 26 },
  { min: 1, max: 9, interval: 1.5, side: 'right', fmt: v => ([1, 4, 7].some(k => Math.abs(v - k) < 1e-6) ? String(Math.round(v)) : ''), minor: 0 }
];

const richStyles = {
  b: { fontFamily: FONT, fontSize: 23, color: INK, lineHeight: 24, verticalAlign: 'bottom' },
  s: { fontFamily: FONT, fontSize: 14, color: INK, lineHeight: 14, verticalAlign: 'top' }
};

const grids = PANEL_TOPS.map((t, i) => ({
  left: PLOT_LEFT, right: PLOT_RIGHT, top: t, height: PANEL_HEIGHTS[i],
  containLabel: false, outerBoundsMode: 'none'
}));

const xAxes = grids.map((g, i) => ({
  type: 'value', gridIndex: i, min: 0, max: 18, interval: 1, position: 'bottom',
  axisLine: { show: true, onZero: false, lineStyle: { color: INK, width: 3 } },
  axisTick: { show: true, inside: false, length: 10, lineStyle: { color: INK, width: 2 } },
  minorTick: { show: true, splitNumber: 10, length: 5, lineStyle: { color: INK, width: 1.5 } },
  splitLine: { show: false }, minorSplitLine: { show: false },
  axisLabel: { show: i === 6, margin: 20, color: INK, fontFamily: FONT, fontSize: 20,
               showMinLabel: true, showMaxLabel: true },
  name: i === 6 ? 'Oct 14, 2000' : '',
  nameLocation: 'middle', nameGap: 75,
  nameTextStyle: { color: INK, fontFamily: FONT, fontSize: 24 }
}));
// inward ticks along the very top frame
xAxes.push({
  type: 'value', gridIndex: 0, min: 0, max: 18, interval: 1, position: 'top',
  axisLine: { show: true, onZero: false, lineStyle: { color: INK, width: 3 } },
  axisTick: { show: true, inside: true, length: 10, lineStyle: { color: INK, width: 2 } },
  minorTick: { show: true, splitNumber: 10, length: 5, lineStyle: { color: INK, width: 1.5 } },
  splitLine: { show: false }, axisLabel: { show: false }
});

const yAxes = [];
panels.forEach((p, i) => {
  ['left', 'right'].forEach(pos => {
    const showLabel = p.side === pos;
    yAxes.push({
      type: 'value', gridIndex: i, position: pos, min: p.min, max: p.max,
      splitNumber: p.split, interval: p.interval,
      axisLine: { show: true, onZero: false, lineStyle: { color: INK, width: 3 } },
      axisTick: { show: true, inside: pos === 'right', length: pos === 'left' ? 12 : 10,
                  lineStyle: { color: INK, width: 2 } },
      minorTick: { show: p.minor > 0, splitNumber: p.minor || 5, length: 6,
                   lineStyle: { color: INK, width: 1.5 } },
      splitLine: { show: false }, minorSplitLine: { show: false },
      axisLabel: {
        show: showLabel, formatter: p.fmt, margin: p.margin || 20,
        color: INK, fontFamily: FONT, fontSize: 22,
        showMinLabel: true, showMaxLabel: true,
        rich: p.rich ? richStyles : undefined
      }
    });
  });
});

// ---------------------------------------------------------------------------
// Series
// ---------------------------------------------------------------------------
function toData(points) {
  return points.map((p, k) => p === null ? [points[k - 1][0], '-'] : p);
}
function trace(panel, points, color, extra) {
  return Object.assign({
    type: 'line', xAxisIndex: panel, yAxisIndex: panel * 2, data: toData(points),
    showSymbol: false, symbol: 'none', connectNulls: false, animation: false, silent: true,
    lineStyle: { color: color, width: 1.8 }, itemStyle: { color: color }, z: 3
  }, extra || {});
}
function arrow(panel, pts, color, both) {
  return {
    type: 'lines', coordinateSystem: 'cartesian2d', xAxisIndex: panel, yAxisIndex: panel * 2,
    clip: false, silent: true, animation: false, z: 6,
    symbol: both ? ['arrow', 'arrow'] : ['none', 'arrow'], symbolSize: 13,
    lineStyle: { color: color, width: 1.3, opacity: 1, curveness: 0 },
    data: [{ coords: pts }]
  };
}
function eventLines(panel) {
  return {
    type: 'line', xAxisIndex: panel, yAxisIndex: panel * 2, data: [], silent: true, animation: false,
    markLine: {
      silent: true, animation: false, symbol: ['none', 'none'], label: { show: false },
      emphasis: { disabled: true },
      data: eventTimes.map((t, k) => ({
        xAxis: t,
        lineStyle: { color: INK, width: 2, type: /a$/.test(eventNames[k]) ? [12, 6] : [3, 6] }
      }))
    }
  };
}

const series = [];
for (let i = 0; i < 7; i++) series.push(eventLines(i));

series.push(
  trace(0, lanl89Ch1, COL.blue), trace(0, lanl89Ch2, COL.green),
  trace(0, lanl89Ch3, COL.red), trace(0, lanl89Ch4, COL.black),
  trace(1, lanl94Ch0, COL.black), trace(1, lanl94Ch1, COL.blue), trace(1, lanl94Ch2, COL.green),
  trace(1, lanl94Ch3, COL.red), trace(1, lanl94Ch4, COL.black),
  trace(2, lanl97Ch0, COL.black), trace(2, lanl97Ch1, COL.blue), trace(2, lanl97Ch2, COL.green),
  trace(2, lanl97Ch3, COL.red), trace(2, lanl97Ch4, COL.black, { clip: false }),
  trace(3, thetaG10, COL.purple), trace(3, thetaG8, COL.navy),
  trace(4, g8B, COL.black), trace(4, g8By, COL.black), trace(4, g8Bz, COL.red), trace(4, g8Bx, COL.blue),
  trace(5, g10B, COL.black), trace(5, g10By, COL.black), trace(5, g10Bz, COL.red), trace(5, g10Bx, COL.blue),
  trace(6, pcn, COL.red), trace(6, pcs, COL.blue, { clip: false }),
  arrow(0, arrow89, COL.black, true), arrow(1, arrow94, COL.black, false),
  arrow(2, arrow97a, COL.black, false), arrow(2, arrow97b, COL.black, false),
  arrow(3, arrowG10th, COL.purple, true), arrow(3, arrowG8th, COL.navy, false)
);

// ---------------------------------------------------------------------------
// Text annotations
// ---------------------------------------------------------------------------
function label(text, x, y, color, size) {
  return { type: 'text', x: x, y: y, z: 10, silent: true,
           style: { text: text, fill: color, fontFamily: FONT, fontSize: size || 22,
                    align: 'left', verticalAlign: 'middle' } };
}
const annotations = [
  label('LANL 1989', 165, 83, INK), label('LANL 1994', 97, 232, INK), label('LANL 1997', 162, 383, INK),
  label('G10', 96, 539, COL.purple, 21), label('theta', 79, 582, INK, 21), label('G8', 89, 627, COL.navy, 21),
  label('B', 229, 689, INK), label('Bz', 301, 711, COL.red), label('Bx', 182, 748, COL.blue),
  label('G8', 82, 790, INK), label('By', 184, 791, INK),
  label('B', 229, 850, INK), label('Bz', 212, 885, COL.red), label('G10', 81, 904, INK),
  label('Bx', 299, 932, COL.blue), label('By', 457, 951, INK),
  label('PCS', 198, 1050, COL.blue, 21), label('PCN', 197, 1118, COL.red, 21)
];

const chart = echarts.init(document.getElementById('chart'), null, { renderer: 'canvas' });
chart.setOption({
  backgroundColor: '#ffffff',
  animation: false,
  grid: grids,
  xAxis: xAxes,
  yAxis: yAxes,
  series: series,
  graphic: annotations
});

// Event names above the top frame, aligned with their vertical lines
const eventTexts = eventTimes.map((t, k) => {
  const x = chart.convertToPixel({ xAxisIndex: 0 }, t);
  const secondary = /a$/.test(eventNames[k]);
  return { type: 'text', x: x + 2, y: 18, z: 10, silent: true,
           style: { text: eventNames[k], fill: secondary ? COL.evBlue : COL.evRed,
                    fontFamily: FONT, fontSize: 21, fontWeight: 'bold',
                    align: 'center', verticalAlign: 'middle' } };
});
chart.setOption({ graphic: annotations.concat(eventTexts) });
</script>
</body>
</html>
